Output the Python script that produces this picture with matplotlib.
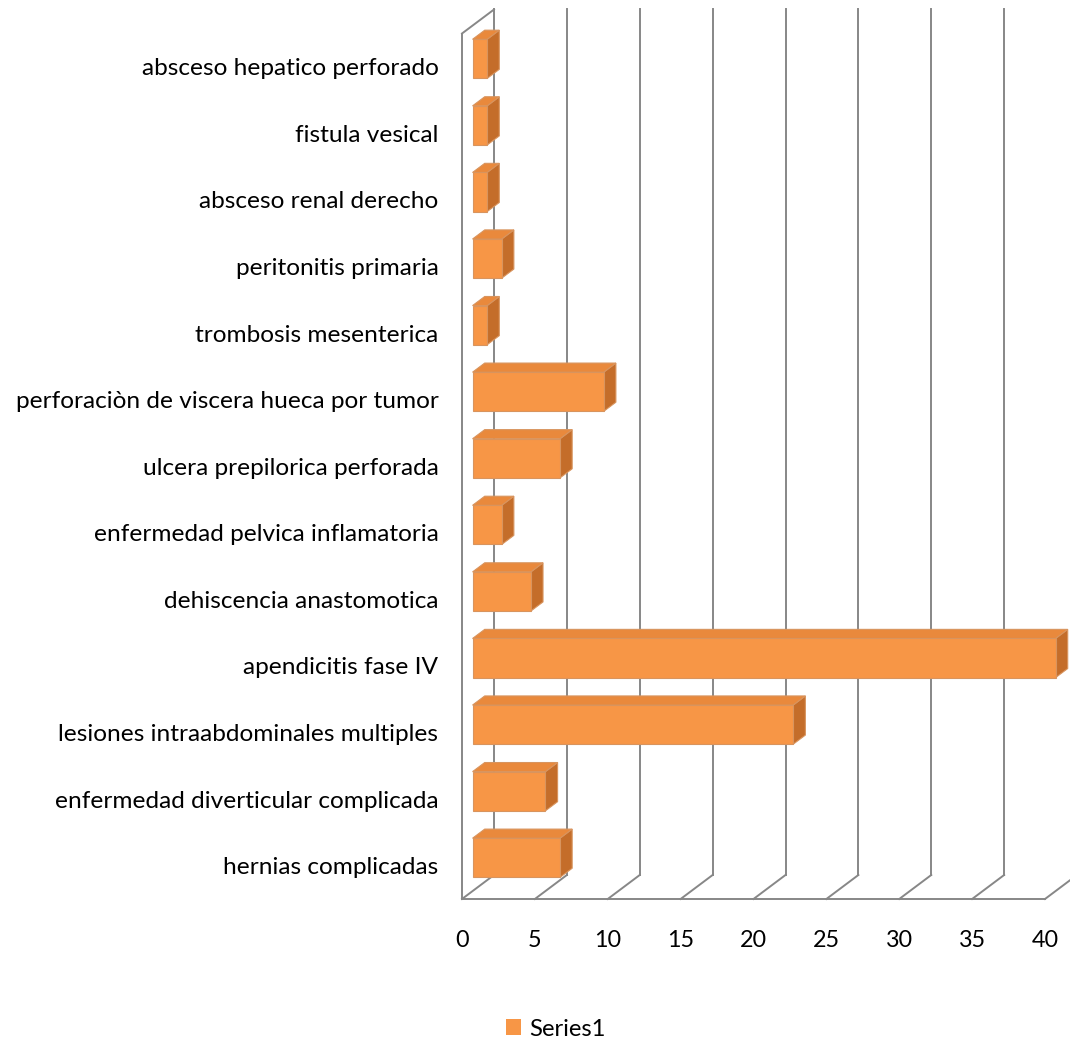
import matplotlib
matplotlib.use("Agg")
import matplotlib.pyplot as plt
from matplotlib.patches import Polygon, Patch

plt.rcParams['font.family'] = ['Lato', 'DejaVu Sans']

categories = [
    "hernias complicadas",
    "enfermedad diverticular complicada",
    "lesiones intraabdominales multiples",
    "apendicitis fase IV",
    "dehiscencia anastomotica",
    "enfermedad pelvica inflamatoria",
    "ulcera prepilorica perforada",
    "perforaciòn de viscera hueca por tumor",
    "trombosis mesenterica",
    "peritonitis primaria",
    "absceso renal derecho",
    "fistula vesical",
    "absceso hepatico perforado",
]
values = [6, 5, 22, 40, 4, 2, 6, 9, 1, 2, 1, 1, 1]
xticks = [0, 5, 10, 15, 20, 25, 30, 35, 40]
series_name = "Series1"

W, H = 1070, 1044
fig = plt.figure(figsize=(W / 100, H / 100), dpi=100)
left, right, bottom, top = 462, 1045, 899, 33.5
ax = fig.add_axes([left / W, (H - bottom) / H, (right - left) / W, (bottom - top) / H])
ax.set_xlim(0, 40)
ax.set_ylim(-0.5, len(categories) - 0.5)

# oblique depth of the floor / back wall, in data units
px_x = (right - left) / 40
px_y = (bottom - top) / len(categories)
DX = 32 / px_x
DY = 24 / px_y

grid_c = "#878787"
glw = 1.4
ymin, ymax = -0.5, len(categories) - 0.5

# left wall outline
ax.plot([0, 0], [ymin, ymax], color=grid_c, lw=glw, clip_on=False, zorder=1)
ax.plot([0, DX], [ymax, ymax + DY], color=grid_c, lw=glw, clip_on=False, zorder=1)
# floor front edge
ax.plot([0, 40], [ymin, ymin], color=grid_c, lw=glw, clip_on=False, zorder=1)
for v in xticks:
    # back wall gridline
    ax.plot([v + DX, v + DX], [ymin + DY, ymax + DY], color=grid_c, lw=glw,
            clip_on=False, zorder=1)
    # floor diagonal
    ax.plot([v, v + DX], [ymin, ymin + DY], color=grid_c, lw=glw,
            clip_on=False, zorder=1)

# 3D bars
f0, d, hh = 0.33, 0.38, 0.294
front_c, top_c, side_c, edge_c = "#F79646", "#E9893C", "#C46D2A", "#D8945E"
for i, v in enumerate(values):
    x0 = f0 * DX
    yc = i + f0 * DY
    yb, yt = yc - hh, yc + hh
    ox, oy = d * DX, d * DY
    front = Polygon([(x0, yb), (x0 + v, yb), (x0 + v, yt), (x0, yt)], closed=True,
                    facecolor=front_c, edgecolor=edge_c, lw=0.8, clip_on=False, zorder=3)
    topf = Polygon([(x0, yt), (x0 + v, yt), (x0 + v + ox, yt + oy), (x0 + ox, yt + oy)],
                   closed=True, facecolor=top_c, edgecolor=edge_c, lw=0.8,
                   clip_on=False, zorder=3)
    side = Polygon([(x0 + v, yb), (x0 + v, yt), (x0 + v + ox, yt + oy), (x0 + v + ox, yb + oy)],
                   closed=True, facecolor=side_c, edgecolor=edge_c, lw=0.8,
                   clip_on=False, zorder=3)
    for p in (side, topf, front):
        ax.add_patch(p)

for s in ax.spines.values():
    s.set_visible(False)
ax.set_facecolor("none")
ax.set_yticks(range(len(categories)))
ax.set_yticklabels(categories, fontsize=17.6, color="#000000")
ax.set_xticks(xticks)
ax.set_xticklabels([str(t) for t in xticks], fontsize=16.8, color="#000000")
ax.tick_params(axis="y", length=0, pad=17)
ax.tick_params(axis="x", length=0, pad=22)

fig.legend(handles=[Patch(facecolor=front_c, edgecolor="none", label=series_name)],
           loc="center", bbox_to_anchor=(556 / W, (H - 1029) / H), frameon=False,
           fontsize=17.2, handlelength=0.62, handleheight=0.62, handletextpad=0.35)

fig.savefig("out.png", dpi=100, facecolor="white")
